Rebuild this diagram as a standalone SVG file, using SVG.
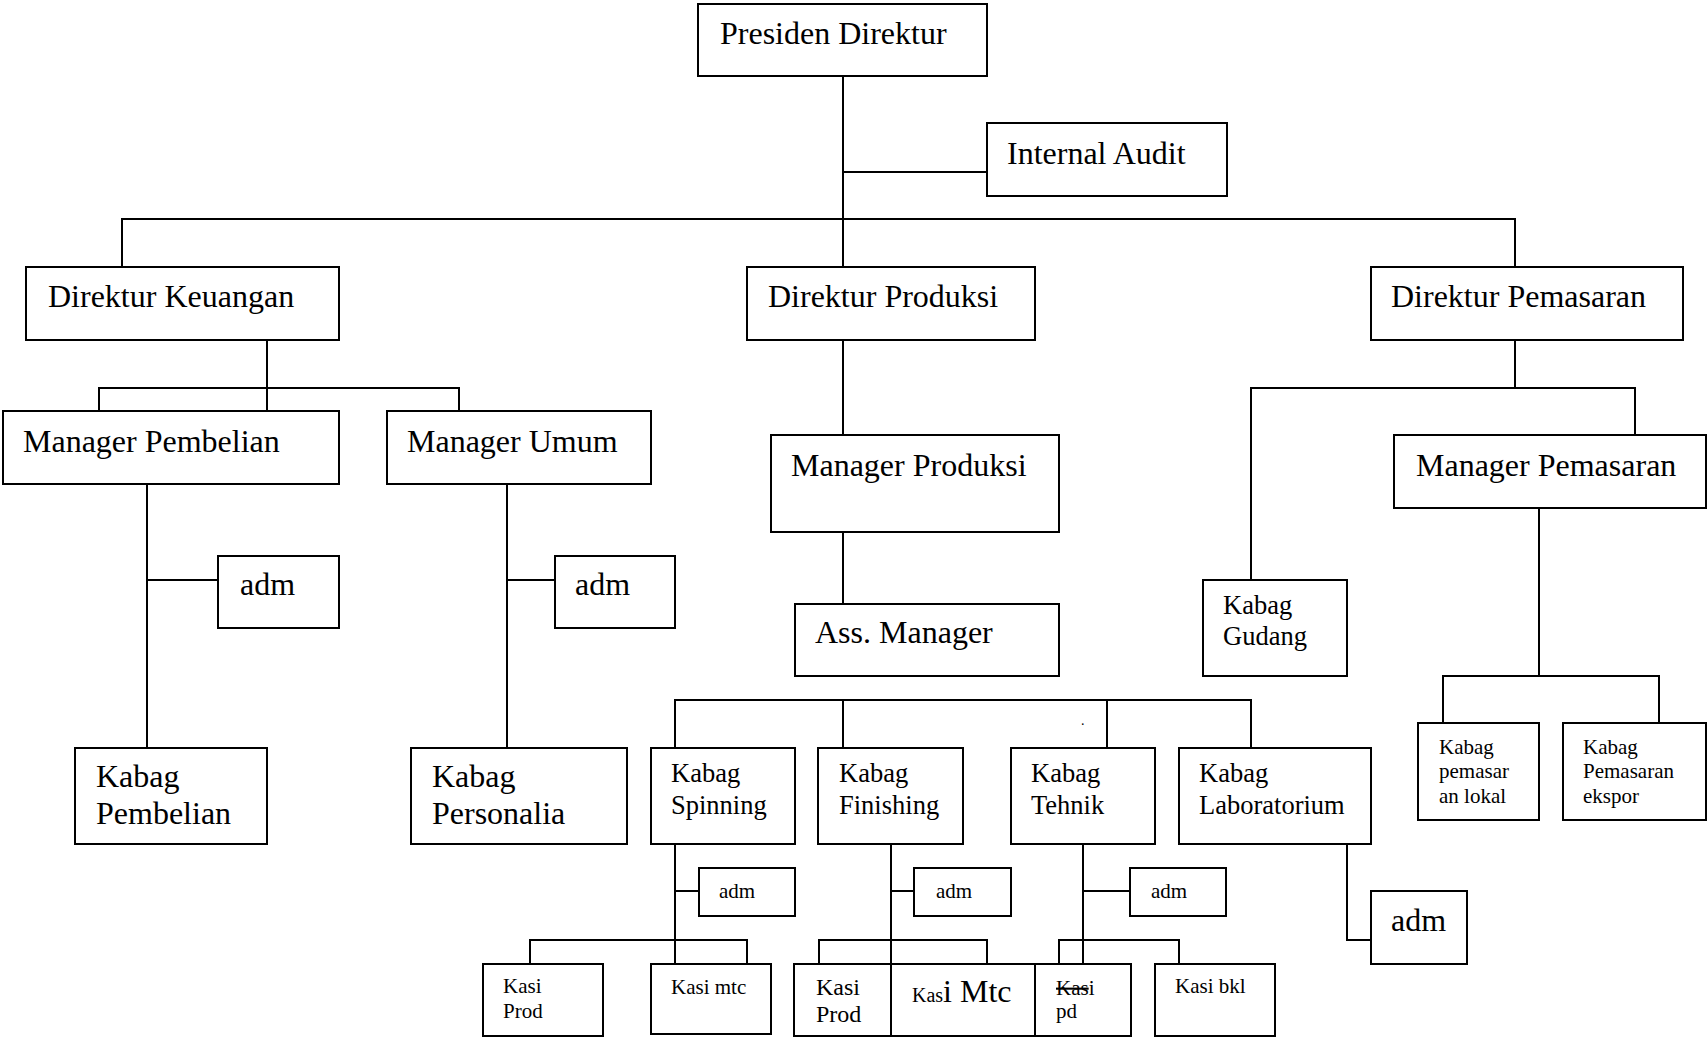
<svg xmlns="http://www.w3.org/2000/svg" width="1708" height="1040" viewBox="0 0 1708 1040">
<style>
.b{fill:#fff;stroke:#000;stroke-width:2}
.c{fill:none;stroke:#000;stroke-width:2}
text{font-family:"Liberation Serif","Times New Roman",serif;fill:#000}
.L{font-size:32px}
.M{font-size:26.5px}
.S{font-size:21px}
</style>
<rect width="1708" height="1040" fill="#fff"/>
<g id="connectors">
<path class="c" d="M843 76V267M843 172H987M122 267V219H1515V267"/>
<path class="c" d="M267 340V411M99 411V388H459V411"/>
<path class="c" d="M147 484V748M147 580H218M507 484V748M507 580H555"/>
<path class="c" d="M843 340V435M843 532V604"/>
<path class="c" d="M675 748V700H1251V748M843 700V748M1107 700V748"/>
<path class="c" d="M1515 340V388M1251 580V388H1635V435"/>
<path class="c" d="M1539 508V676M1443 723V676H1659V723"/>
<path class="c" d="M675 844V964M675 891H699M530 964V940H747V964"/>
<path class="c" d="M891 844V964M891 891H914M819 964V940H987V964"/>
<path class="c" d="M1083 844V964M1083 891H1130M1059 964V940H1179V964"/>
<path class="c" d="M1347 844V940H1371"/>
</g>
<g id="presiden"><rect class="b" x="698" y="4" width="289" height="72"/><text class="L" x="720" y="44">Presiden Direktur</text></g>
<g id="internal-audit"><rect class="b" x="987" y="123" width="240" height="73"/><text class="L" x="1007" y="164">Internal Audit</text></g>
<g id="dir-keuangan"><rect class="b" x="26" y="267" width="313" height="73"/><text class="L" x="48" y="307">Direktur Keuangan</text></g>
<g id="dir-produksi"><rect class="b" x="747" y="267" width="288" height="73"/><text class="L" x="768" y="307">Direktur Produksi</text></g>
<g id="dir-pemasaran"><rect class="b" x="1371" y="267" width="312" height="73"/><text class="L" x="1391" y="307">Direktur Pemasaran</text></g>
<g id="mgr-pembelian"><rect class="b" x="3" y="411" width="336" height="73"/><text class="L" x="23" y="452">Manager Pembelian</text></g>
<g id="mgr-umum"><rect class="b" x="387" y="411" width="264" height="73"/><text class="L" x="407" y="452">Manager Umum</text></g>
<g id="mgr-produksi"><rect class="b" x="771" y="435" width="288" height="97"/><text class="L" x="791" y="476">Manager Produksi</text></g>
<g id="mgr-pemasaran"><rect class="b" x="1394" y="435" width="312" height="73"/><text class="L" x="1416" y="476">Manager Pemasaran</text></g>
<g id="adm-pembelian"><rect class="b" x="218" y="556" width="121" height="72"/><text class="L" x="240" y="595">adm</text></g>
<g id="adm-umum"><rect class="b" x="555" y="556" width="120" height="72"/><text class="L" x="575" y="595">adm</text></g>
<g id="ass-manager"><rect class="b" x="795" y="604" width="264" height="72"/><text class="L" x="815" y="643">Ass. Manager</text></g>
<g id="kabag-gudang"><rect class="b" x="1203" y="580" width="144" height="96"/><text class="M" x="1223" y="614">Kabag</text><text class="M" x="1223" y="645">Gudang</text></g>
<g id="kabag-lokal"><rect class="b" x="1418" y="723" width="121" height="97"/><text class="S" x="1439" y="754">Kabag</text><text class="S" x="1439" y="778">pemasar</text><text class="S" x="1439" y="803">an lokal</text></g>
<g id="kabag-ekspor"><rect class="b" x="1563" y="723" width="143" height="97"/><text class="S" x="1583" y="754">Kabag</text><text class="S" x="1583" y="778">Pemasaran</text><text class="S" x="1583" y="803">ekspor</text></g>
<g id="kabag-pembelian"><rect class="b" x="75" y="748" width="192" height="96"/><text class="L" x="96" y="787">Kabag</text><text class="L" x="96" y="824">Pembelian</text></g>
<g id="kabag-personalia"><rect class="b" x="411" y="748" width="216" height="96"/><text class="L" x="432" y="787">Kabag</text><text class="L" x="432" y="824">Personalia</text></g>
<g id="kabag-spinning"><rect class="b" x="651" y="748" width="144" height="96"/><text class="M" x="671" y="782">Kabag</text><text class="M" x="671" y="814">Spinning</text></g>
<g id="kabag-finishing"><rect class="b" x="818" y="748" width="145" height="96"/><text class="M" x="839" y="782">Kabag</text><text class="M" x="839" y="814">Finishing</text></g>
<g id="kabag-tehnik"><rect class="b" x="1011" y="748" width="144" height="96"/><text class="M" x="1031" y="782">Kabag</text><text class="M" x="1031" y="814">Tehnik</text></g>
<g id="kabag-lab"><rect class="b" x="1179" y="748" width="192" height="96"/><text class="M" x="1199" y="782">Kabag</text><text class="M" x="1199" y="814">Laboratorium</text></g>
<text id="dot" x="1081" y="725" style="font-size:14px">.</text>
<g id="adm-spinning"><rect class="b" x="699" y="868" width="96" height="48"/><text class="S" x="719" y="898">adm</text></g>
<g id="adm-finishing"><rect class="b" x="914" y="868" width="97" height="48"/><text class="S" x="936" y="898">adm</text></g>
<g id="adm-tehnik"><rect class="b" x="1130" y="868" width="96" height="48"/><text class="S" x="1151" y="898">adm</text></g>
<g id="adm-lab"><rect class="b" x="1371" y="891" width="96" height="73"/><text class="L" x="1391" y="931">adm</text></g>
<g id="kasi-prod-1"><rect class="b" x="483" y="964" width="120" height="72"/><text class="S" x="503" y="993">Kasi</text><text class="S" x="503" y="1018">Prod</text></g>
<g id="kasi-mtc-1"><rect class="b" x="651" y="964" width="120" height="70"/><text class="S" x="671" y="994">Kasi mtc</text></g>
<g id="kasi-prod-2"><rect class="b" x="794" y="964" width="97" height="72"/><text style="font-size:24px" x="816" y="995">Kasi</text><text style="font-size:24px" x="816" y="1022">Prod</text></g>
<g id="kasi-mtc-2"><rect class="b" x="891" y="964" width="144" height="72"/><text x="912" y="1002"><tspan style="font-size:20px">Kas</tspan><tspan style="font-size:32px">i Mtc</tspan></text></g>
<g id="kasi-pd"><rect class="b" x="1035" y="964" width="96" height="72"/><text class="S" x="1056" y="995"><tspan text-decoration="line-through">Kas</tspan>i</text><text class="S" x="1056" y="1018">pd</text></g>
<g id="kasi-bkl"><rect class="b" x="1155" y="964" width="120" height="72"/><text class="S" x="1175" y="993">Kasi bkl</text></g>
</svg>
